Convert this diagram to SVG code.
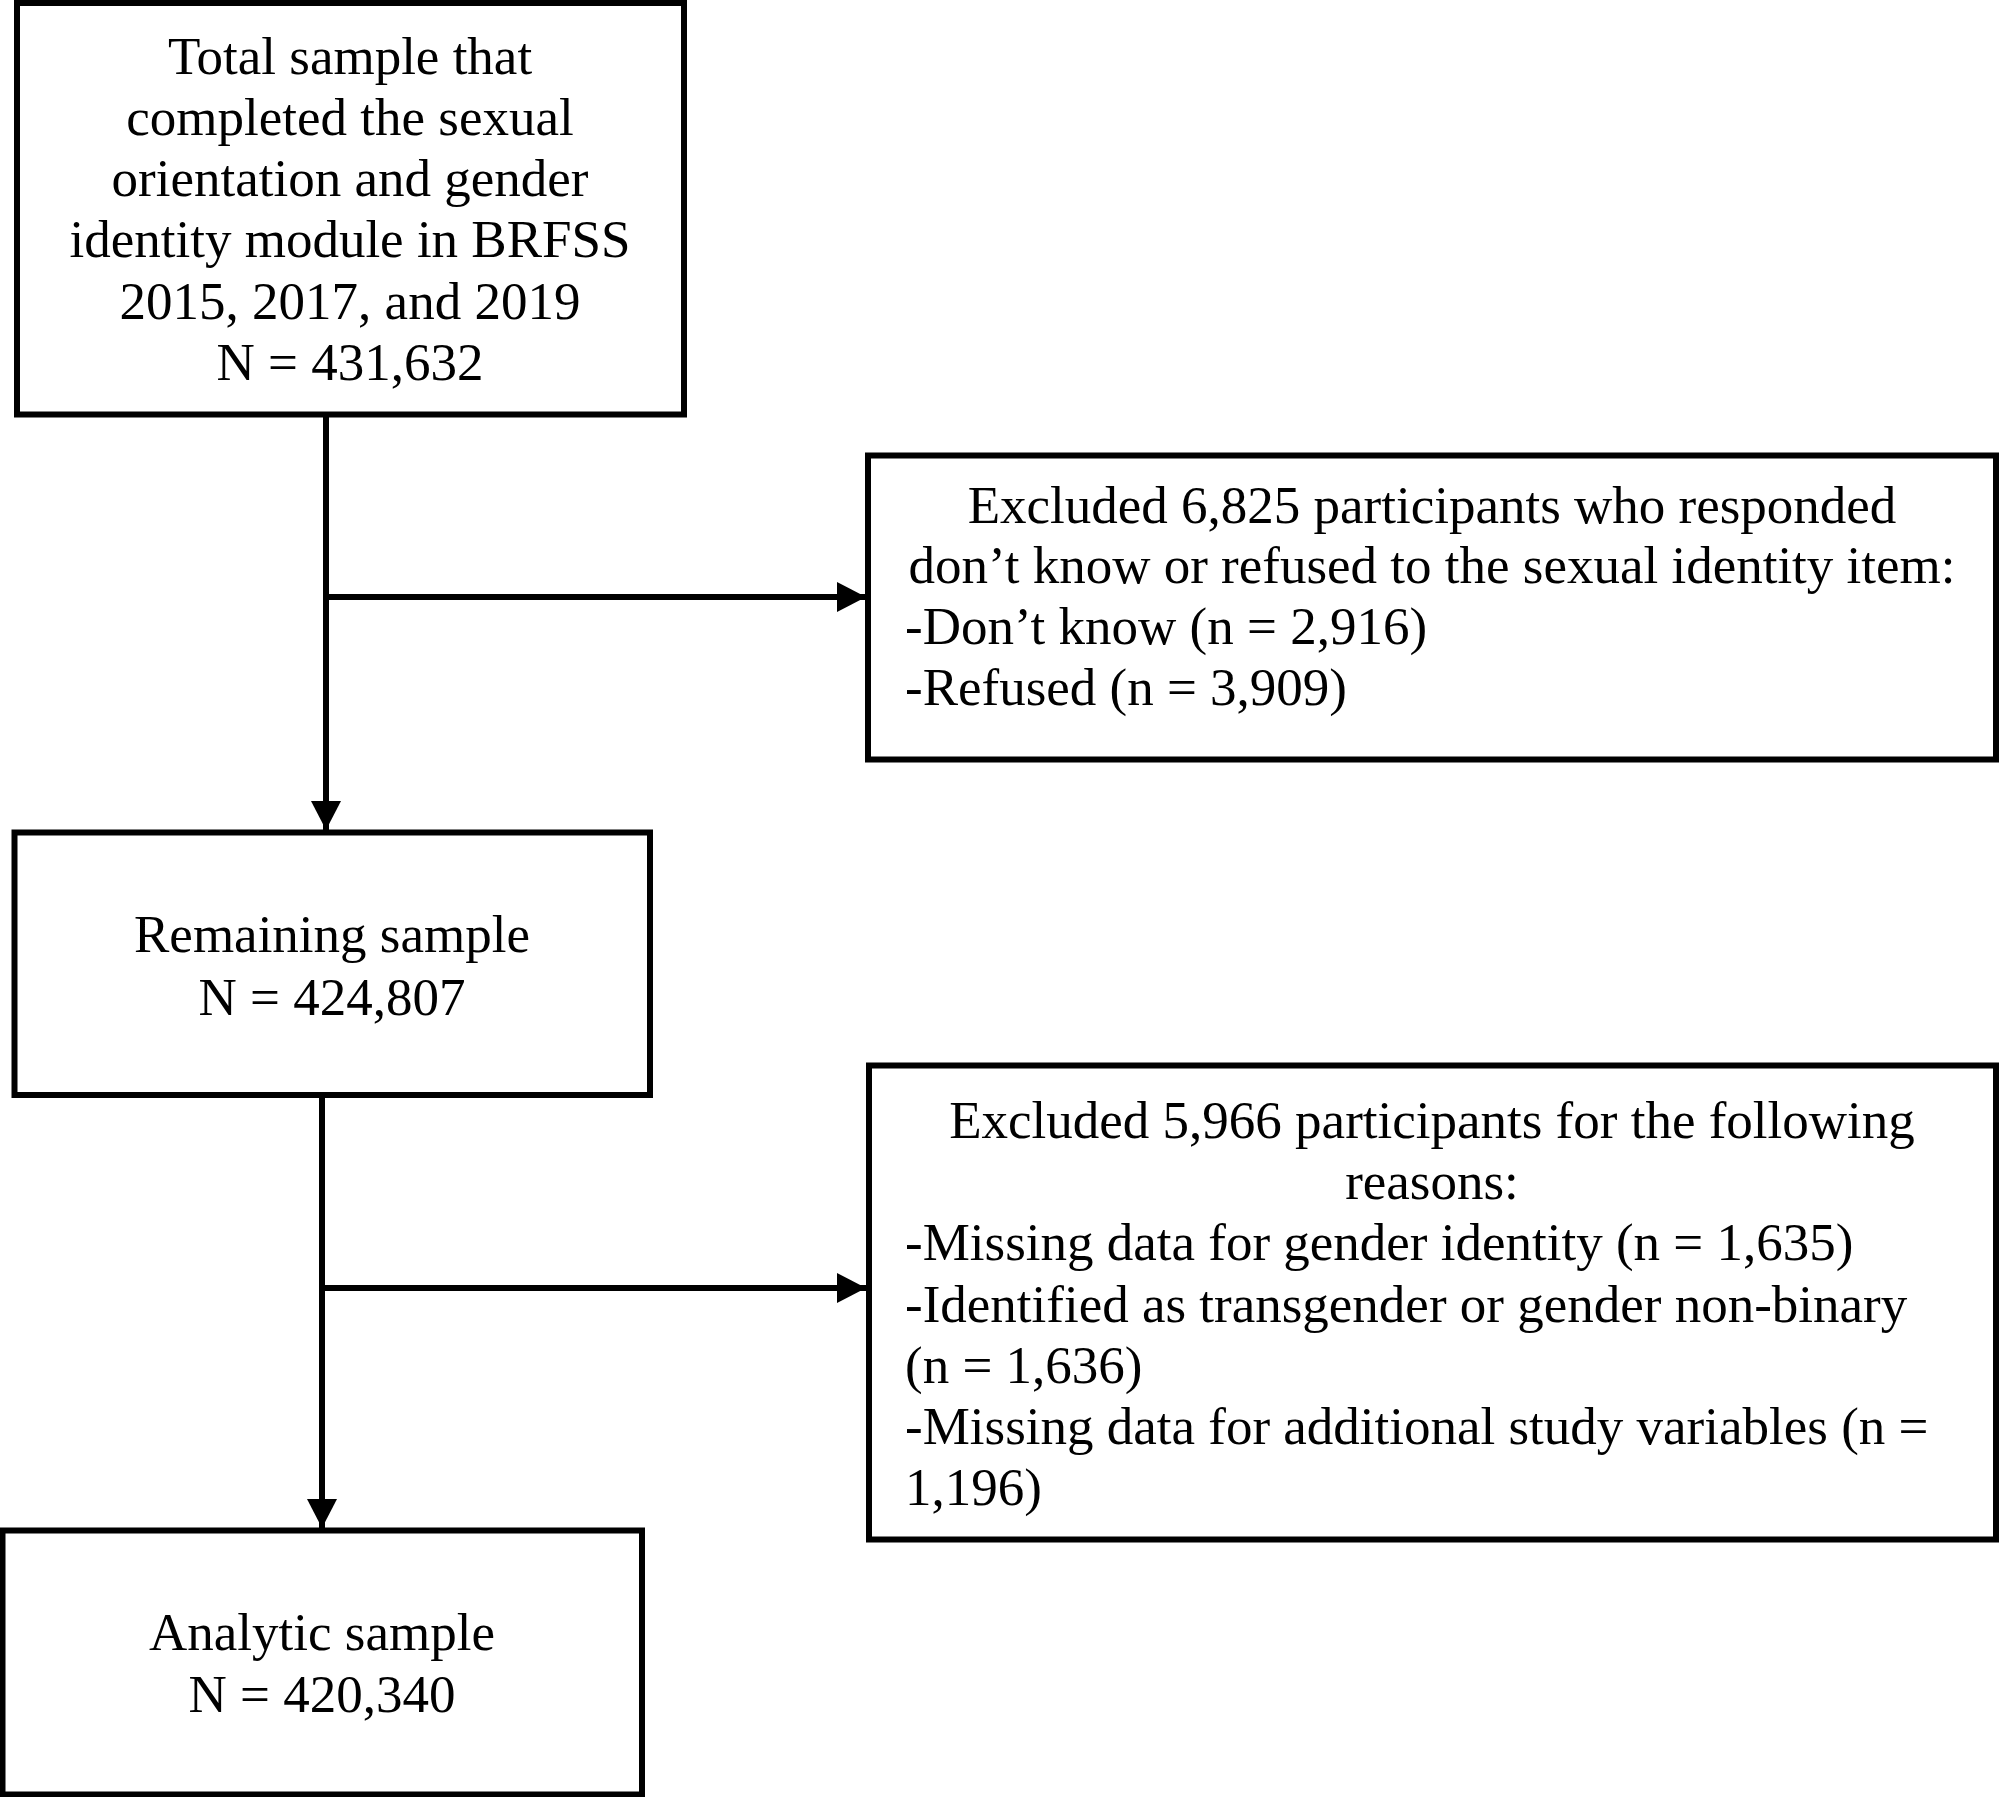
<svg xmlns="http://www.w3.org/2000/svg" width="2000" height="1797" viewBox="0 0 2000 1797">
<style>
.box{fill:#fff;stroke:#000;stroke-width:6}
.t{font-family:"Liberation Serif","Times New Roman",serif;font-size:53px;fill:#000}
.c{text-anchor:middle}
.conn{stroke:#000;stroke-width:6;fill:none}
</style>
<defs>
<marker id="arr" markerUnits="userSpaceOnUse" markerWidth="30" markerHeight="30" refX="29" refY="15" orient="auto">
<path d="M0,0 L29,15 L0,30 z" fill="#000"/>
</marker>
</defs>
<rect width="2000" height="1797" fill="#fff"/>
<g id="connectors">
<line class="conn" x1="326" y1="414" x2="326" y2="830" marker-end="url(#arr)"/>
<line class="conn" x1="326" y1="597" x2="866" y2="597" marker-end="url(#arr)"/>
<line class="conn" x1="322" y1="1096" x2="322" y2="1528" marker-end="url(#arr)"/>
<line class="conn" x1="322" y1="1288" x2="866" y2="1288" marker-end="url(#arr)"/>
</g>
<g id="total">
<rect class="box" x="17" y="3" width="667" height="411.5"/>
<text class="t c" x="350" y="74">Total sample that</text>
<text class="t c" x="350" y="135">completed the sexual</text>
<text class="t c" x="350" y="196">orientation and gender</text>
<text class="t c" x="350" y="257">identity module in BRFSS</text>
<text class="t c" x="350" y="319">2015, 2017, and 2019</text>
<text class="t c" x="350" y="380">N = 431,632</text>
</g>
<g id="excluded1">
<rect class="box" x="868" y="455.5" width="1128" height="304"/>
<text class="t c" x="1432" y="523">Excluded 6,825 participants who responded</text>
<text class="t c" x="1432" y="583">don’t know or refused to the sexual identity item:</text>
<text class="t" x="905" y="644">-Don’t know (n = 2,916)</text>
<text class="t" x="905" y="705">-Refused (n = 3,909)</text>
</g>
<g id="remaining">
<rect class="box" x="14.5" y="832.5" width="635.5" height="262.5"/>
<text class="t c" x="332" y="952">Remaining sample</text>
<text class="t c" x="332" y="1015">N = 424,807</text>
</g>
<g id="excluded2">
<rect class="box" x="869" y="1065.5" width="1127" height="474"/>
<text class="t c" x="1432" y="1138">Excluded 5,966 participants for the following</text>
<text class="t c" x="1432" y="1199">reasons:</text>
<text class="t" x="905" y="1260">-Missing data for gender identity (n = 1,635)</text>
<text class="t" x="905" y="1322">-Identified as transgender or gender non-binary</text>
<text class="t" x="905" y="1383">(n = 1,636)</text>
<text class="t" x="905" y="1444">-Missing data for additional study variables (n =</text>
<text class="t" x="905" y="1505">1,196)</text>
</g>
<g id="analytic">
<rect class="box" x="2.5" y="1530.5" width="639.5" height="264"/>
<text class="t c" x="322" y="1650">Analytic sample</text>
<text class="t c" x="322" y="1712">N = 420,340</text>
</g>
</svg>
